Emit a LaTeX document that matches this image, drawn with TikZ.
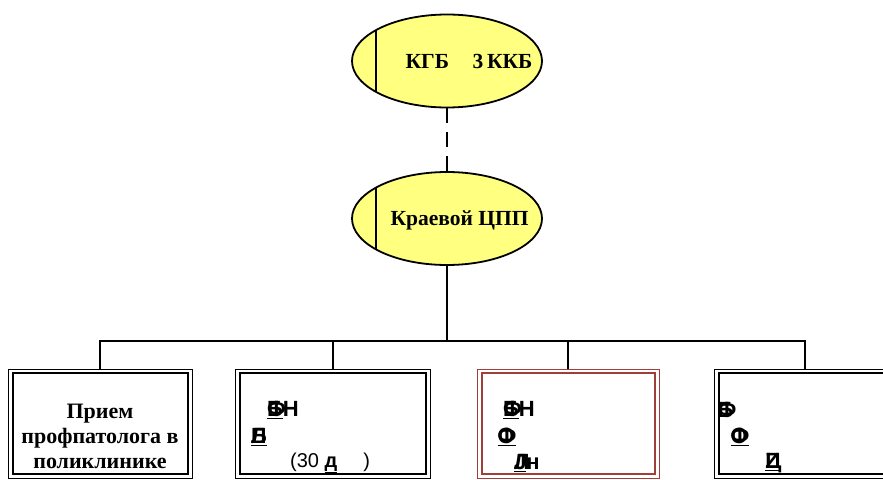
\documentclass[tikz,border=0pt]{standalone}
\usepackage{fontspec}
\setmainfont{Liberation Serif}
\newfontfamily\sansf{Liberation Sans}
\usetikzlibrary{calc,shapes.geometric}

\definecolor{ovalfill}{RGB}{255,255,128}
\definecolor{redframe}{RGB}{160,62,58}

% two glyphs printed on top of each other
\newcommand\overprint[2]{\rlap{#1}#2}

\begin{document}
\begin{tikzpicture}[x=1pt,y=-1pt,
  oval/.style={ellipse,draw=black,line width=1.8pt,fill=ovalfill,
    minimum width=190,minimum height=93,inner sep=0pt},
  ovaltext/.style={font=\fontsize{21.5}{24}\selectfont\bfseries},
  link/.style={line width=1.6pt},
  outerbox/.style={draw=black,line width=1pt,inner sep=0pt},
  innerline/.style={line width=2pt},
  boxtext/.style={font=\fontsize{22}{25}\selectfont\bfseries,align=center},
  garb/.style={font=\sansf\fontsize{22}{24}\selectfont\bfseries,inner sep=0pt}
]
\useasboundingbox (0,0) rectangle (883,479);

% ovals
\node[oval] (kgb) at (447,61) {};
\node[oval] (cpp) at (447,218.5) {};
\draw[line width=1.8pt] ($(kgb.center)+(-71,-30.6)$) -- ($(kgb.center)+(-71,30.6)$);
\draw[line width=1.8pt] ($(cpp.center)+(-71,-31.5)$) -- ($(cpp.center)+(-71,31.5)$);
\node[ovaltext] (kgbt) at (469,61) {КГБ\hspace{1.1em}3\,ККБ};
\node[ovaltext] (cppt) at (459.5,220) {Краевой ЦПП};

% boxes (outer thin frame)
\node[outerbox,minimum width=184,minimum height=109] (b1) at (100,423.5) {};
\node[outerbox,minimum width=195,minimum height=109] (b2) at (333,423.5) {};
\node[outerbox,draw=redframe,minimum width=182,minimum height=109] (b3) at (568,423.5) {};
\node[outerbox,minimum width=182,minimum height=109] (b4) at (805,423.5) {};

% inner thick frames
\draw[innerline] ($(b1.north west)+(5,4.5)$) rectangle ($(b1.south east)+(-5,-4.5)$);
\draw[innerline] ($(b2.north west)+(5,4.5)$) rectangle ($(b2.south east)+(-5,-4.5)$);
\draw[innerline,draw=redframe] ($(b3.north west)+(5,4.5)$) rectangle ($(b3.south east)+(-5,-4.5)$);
\draw[innerline] ($(b4.north west)+(5,4.5)$) rectangle ($(b4.south east)+(-5,-4.5)$);

% connectors
\coordinate (bus) at (447,341);
\draw[link,dash pattern=on 15pt off 9pt] (kgb.south) -- (cpp.north);
\draw[link] (cpp.south) -- (bus);
\draw[link] (b1.north) |- (bus) -| (b4.north);
\draw[link] (b2.north) -- (b2.north |- bus);
\draw[link] (b3.north) -- (b3.north |- bus);

% box texts
\node[boxtext] (t1) at (100,436) {Прием\\профпатолога в\\поликлинике};

\node[garb] (g21) at (283,410) {\overprint{Ф}{\underline{Б}}Н};
\node[garb] (g22) at (259,437) {\overprint{Л}{\underline{Б}}};
\node[font=\sansf\fontsize{20}{22}\selectfont,inner sep=0pt,anchor=west] (g23) at (290,463)
  {(30 \underline{\textbf{д}}\hspace{1.3em})};

\node[garb] (g31) at (519,410) {\overprint{Ф}{\underline{Б}}Н};
\node[garb] (g32) at (507,437) {\overprint{О}{\underline{Ф}}};
\node[garb] (g33) at (527,463) {\overprint{Л}{\underline{J}}н};

\node[garb] (g41) at (727,410) {\overprint{Б}{Ф}};
\node[garb] (g42) at (740,437) {\overprint{О}{\underline{Ф}}};
\node[garb] (g43) at (772,463) {\overprint{Ц}{\underline{Z}}};
\end{tikzpicture}
\end{document}
